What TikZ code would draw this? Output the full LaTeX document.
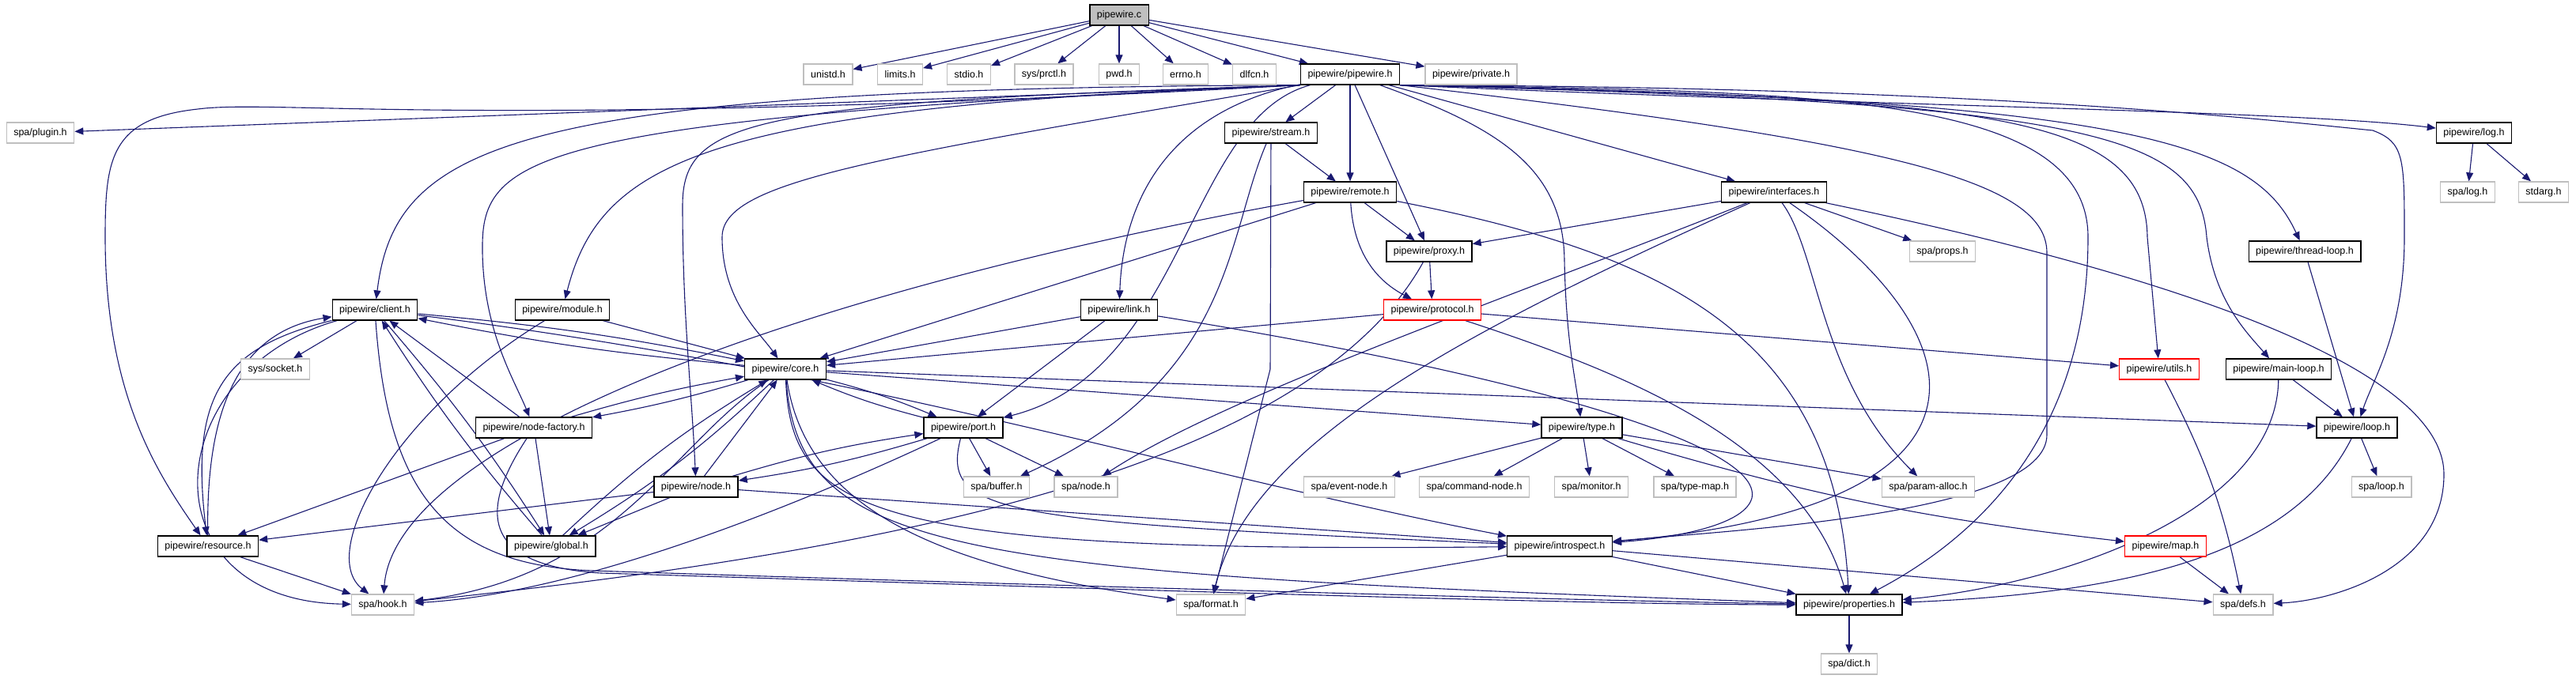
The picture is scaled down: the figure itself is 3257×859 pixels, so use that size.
\documentclass[tikz,border=0pt]{standalone}
\usepackage{fontspec}
\setmainfont{Liberation Sans}
\usepackage{xcolor}
\usetikzlibrary{arrows.meta}
\definecolor{edgeblue}{RGB}{25,25,112}
\definecolor{grayline}{RGB}{191,191,191}
\pgfdeclarelayer{bg}
\pgfsetlayers{bg,main}

\begin{document}
\begin{tikzpicture}[x=1pt,y=1pt,
  hdr/.style={draw=black,line width=1.3pt,fill=white,inner xsep=9pt,inner ysep=0pt,
    minimum height=26pt,font=\fontsize{12.5}{14}\selectfont},
  ext/.style={hdr,draw=grayline},
  trunc/.style={hdr,draw=red},
  dep/.style={draw=edgeblue,line width=1.1pt,-{Stealth[length=11pt,width=9pt,inset=0pt]}}]
\useasboundingbox(0,0)rectangle(3257,-859);
% rank 0 and 1
\node[hdr,fill=grayline](pwc) at (1415,-19){pipewire.c};
\node[ext](unistd) at (1047,-94){unistd.h};
\node[ext](limits) at (1138,-94){limits.h};
\node[ext](stdio) at (1225,-94){stdio.h};
\node[ext](prctl) at (1320,-94){sys/prctl.h};
\node[ext](pwd) at (1415,-94){pwd.h};
\node[ext](errno) at (1499,-94){errno.h};
\node[ext](dlfcn) at (1586,-94){dlfcn.h};
\node[hdr](pwh) at (1707,-94){pipewire/pipewire.h};
\node[ext](private) at (1860,-94){pipewire/private.h};
% rank 2 to 4
\node[ext](plugin) at (51,-168){spa/plugin.h};
\node[hdr](stream) at (1607,-168){pipewire/stream.h};
\node[hdr](log) at (3128,-168){pipewire/log.h};
\node[hdr](remote) at (1707,-243){pipewire/remote.h};
\node[hdr](interfaces) at (2243,-243){pipewire/interfaces.h};
\node[ext](spalog) at (3120,-243){spa/log.h};
\node[ext](stdarg) at (3216,-243){stdarg.h};
\node[hdr](proxy) at (1807,-318){pipewire/proxy.h};
\node[ext](props) at (2456,-318){spa/props.h};
\node[hdr](threadloop) at (2914,-318){pipewire/thread-loop.h};
% rank 5 to 7
\node[hdr](client) at (474,-392){pipewire/client.h};
\node[hdr](module) at (711,-392){pipewire/module.h};
\node[hdr](link) at (1415,-392){pipewire/link.h};
\node[trunc](protocol) at (1811,-392){pipewire/protocol.h};
\node[ext](socket) at (348,-467){sys/socket.h};
\node[hdr](core) at (993,-467){pipewire/core.h};
\node[trunc](utils) at (2730,-467){pipewire/utils.h};
\node[hdr](mainloop) at (2881,-467){pipewire/main-loop.h};
\node[hdr](nodefactory) at (675,-541){pipewire/node-factory.h};
\node[hdr](port) at (1218,-541){pipewire/port.h};
\node[hdr](type) at (2000,-541){pipewire/type.h};
\node[hdr](loop) at (2980,-541){pipewire/loop.h};
% rank 8 to 11
\node[hdr](node) at (880,-616){pipewire/node.h};
\node[ext](buffer) at (1260,-616){spa/buffer.h};
\node[ext](spanode) at (1373,-616){spa/node.h};
\node[ext](eventnode) at (1706,-616){spa/event-node.h};
\node[ext](commandnode) at (1864,-616){spa/command-node.h};
\node[ext](monitor) at (2012,-616){spa/monitor.h};
\node[ext](typemap) at (2143,-616){spa/type-map.h};
\node[ext](paramalloc) at (2438,-616){spa/param-alloc.h};
\node[ext](spaloop) at (3011,-616){spa/loop.h};
\node[hdr](resource) at (263,-691){pipewire/resource.h};
\node[hdr](global) at (697,-691){pipewire/global.h};
\node[hdr](introspect) at (1972,-691){pipewire/introspect.h};
\node[trunc](map) at (2738,-691){pipewire/map.h};
\node[ext](hook) at (484,-765){spa/hook.h};
\node[ext](format) at (1531,-765){spa/format.h};
\node[hdr](properties) at (2338,-765){pipewire/properties.h};
\node[ext](defs) at (2836,-765){spa/defs.h};
\node[ext](dict) at (2338,-840){spa/dict.h};

\begin{pgfonlayer}{bg}
\foreach \t in {unistd,limits,stdio,prctl,pwd,errno,dlfcn,pwh,private}
  \draw[dep](pwc)--(\t);
\foreach \a/\b in {pwh/stream,pwh/remote,pwh/proxy,pwh/interfaces,
  stream/remote,remote/proxy,remote/core,proxy/protocol,protocol/core,protocol/utils,
  log/spalog,log/stdarg,interfaces/proxy,interfaces/props,threadloop/loop,
  client/socket,module/core,link/core,link/port,core/type,core/loop,
  mainloop/loop,nodefactory/client,nodefactory/resource,nodefactory/global,
  type/eventnode,type/commandnode,type/monitor,type/typemap,type/paramalloc,
  loop/spaloop,port/buffer,port/spanode,node/core,node/resource,node/global,
  node/introspect,resource/hook,introspect/format,introspect/properties,
  introspect/defs,map/defs,properties/dict}
  \draw[dep](\a)--(\b);
% pipewire.h fan-out, left side
\draw[dep](pwh.south west)--(plugin);
\draw[dep](pwh) .. controls (1480,-140) and (1420,-250) .. (link);
\draw[dep](pwh) .. controls (1500,-150) and (1500,-470) .. (port);
\draw[dep](pwh.south west) .. controls (1100,-200) and (913,-230) .. (913,-300) .. controls (913,-380) and (960,-420) .. (core);
\draw[dep](pwh.south west) .. controls (650,-112) and (500,-180) .. (client);
\draw[dep](pwh.south west) .. controls (900,-135) and (760,-200) .. (module);
\draw[dep](pwh.south west) .. controls (650,-150) and (608,-200) .. (610,-320) .. controls (612,-420) and (650,-480) .. (nodefactory);
\draw[dep](pwh.south west) .. controls (950,-130) and (863,-150) .. (863,-260) .. controls (863,-400) and (875,-500) .. (node);
\draw[dep](pwh.south west) .. controls (600,-165) and (350,-125) .. (250,-138) .. controls (140,-150) and (133,-200) .. (133,-300) .. controls (133,-500) and (200,-600) .. (resource);
% pipewire.h fan-out, right side
\draw[dep](pwh) .. controls (1890,-160) and (1977,-210) .. (1978,-330) .. controls (1980,-430) and (1992,-480) .. (type);
\draw[dep](pwh.south east) .. controls (2400,-135) and (2900,-140) .. (log);
\draw[dep](pwh.south east) .. controls (2400,-180) and (2588,-230) .. (2588,-320) -- (2588,-550) .. controls (2588,-650) and (2200,-670) .. (introspect);
\draw[dep](pwh.south east) .. controls (2300,-115) and (2640,-120) .. (2640,-300) .. controls (2640,-550) and (2500,-680) .. (properties);
\draw[dep](pwh.south east) .. controls (2500,-125) and (2713,-140) .. (2715,-300) -- (utils);
\draw[dep](pwh.south east) .. controls (2650,-130) and (2780,-170) .. (2790,-300) .. controls (2800,-380) and (2840,-420) .. (mainloop);
\draw[dep](pwh.south east) .. controls (2700,-125) and (2850,-180) .. (threadloop);
\draw[dep](pwh.south east) .. controls (2500,-110) and (2850,-150) .. (3000,-165) .. controls (3040,-180) and (3040,-200) .. (3040,-300) .. controls (3040,-420) and (3000,-480) .. (loop);
% stream, remote, proxy, protocol, link
\draw[dep](stream) .. controls (1550,-300) and (1560,-480) .. (buffer);
\draw[dep](stream)--(1606,-467)--(format);
\draw[dep](remote) .. controls (1712,-330) and (1750,-360) .. (protocol);
\draw[dep](remote) .. controls (1000,-370) and (500,-560) .. (hook);
\draw[dep](remote) .. controls (2100,-320) and (2320,-420) .. (properties);
\draw[dep](proxy) .. controls (1650,-600) and (1100,-700) .. (hook);
\draw[dep](protocol) .. controls (2050,-470) and (2280,-560) .. (properties);
\draw[dep](link) .. controls (1900,-470) and (2230,-560) .. (2215,-630) .. controls (2205,-668) and (2100,-682) .. (introspect);
% interfaces
\draw[dep](interfaces) .. controls (1900,-380) and (1550,-500) .. (spanode);
\draw[dep](interfaces) .. controls (1850,-420) and (1580,-560) .. (format);
\draw[dep](interfaces) .. controls (2300,-320) and (2300,-480) .. (paramalloc);
\draw[dep](interfaces) .. controls (2500,-420) and (2560,-640) .. (introspect);
\draw[dep](interfaces) .. controls (2900,-380) and (3090,-500) .. (3090,-600) .. controls (3090,-720) and (2950,-760) .. (defs);
% client, module
\draw[dep](client) to[bend left=3] (core);
\draw[dep](core) to[bend left=3] (client);
\draw[dep](client) .. controls (200,-470) and (180,-760) .. (hook);
\draw[dep](client) .. controls (490,-620) and (560,-715) .. (750,-722) .. controls (1300,-740) and (2000,-760) .. (properties);
\draw[dep](client) .. controls (280,-440) and (240,-500) .. (resource);
\draw[dep](resource) .. controls (260,-520) and (300,-420) .. (client);
\draw[dep](client) to[bend left=4] (global);
\draw[dep](global) to[bend left=4] (client);
\draw[dep](client) .. controls (1100,-470) and (1500,-600) .. (introspect);
\draw[dep](module) .. controls (500,-520) and (400,-700) .. (hook);
% core
\draw[dep](core) to[bend left=3] (nodefactory);
\draw[dep](nodefactory) to[bend left=3] (core);
\draw[dep](core) to[bend left=6] (global);
\draw[dep](global) to[bend left=6] (core);
\draw[dep](core) .. controls (850,-560) and (780,-730) .. (hook);
\draw[dep](core) to[bend left=4] (port);
\draw[dep](port) to[bend left=4] (core);
\draw[dep](core) .. controls (1000,-650) and (1100,-700) .. (introspect);
\draw[dep](core) .. controls (1010,-700) and (1200,-725) .. (properties);
\draw[dep](core) .. controls (1020,-650) and (1200,-720) .. (format);
% lower part
\draw[dep](utils) to[bend left=8] (defs);
\draw[dep](type) to[bend right=5] (map);
\draw[dep](mainloop) .. controls (2878,-650) and (2600,-740) .. (properties);
\draw[dep](nodefactory) .. controls (610,-640) and (600,-715) .. (760,-725) .. controls (1400,-745) and (2000,-765) .. (properties);
\draw[dep](loop) .. controls (2900,-700) and (2700,-750) .. (properties);
\draw[dep](port) to[bend left=4] (node);
\draw[dep](node) to[bend left=4] (port);
\draw[dep](port) .. controls (1050,-620) and (750,-750) .. (hook);
\draw[dep](port) .. controls (1190,-650) and (1260,-660) .. (introspect);
\end{pgfonlayer}
\end{tikzpicture}
\end{document}
